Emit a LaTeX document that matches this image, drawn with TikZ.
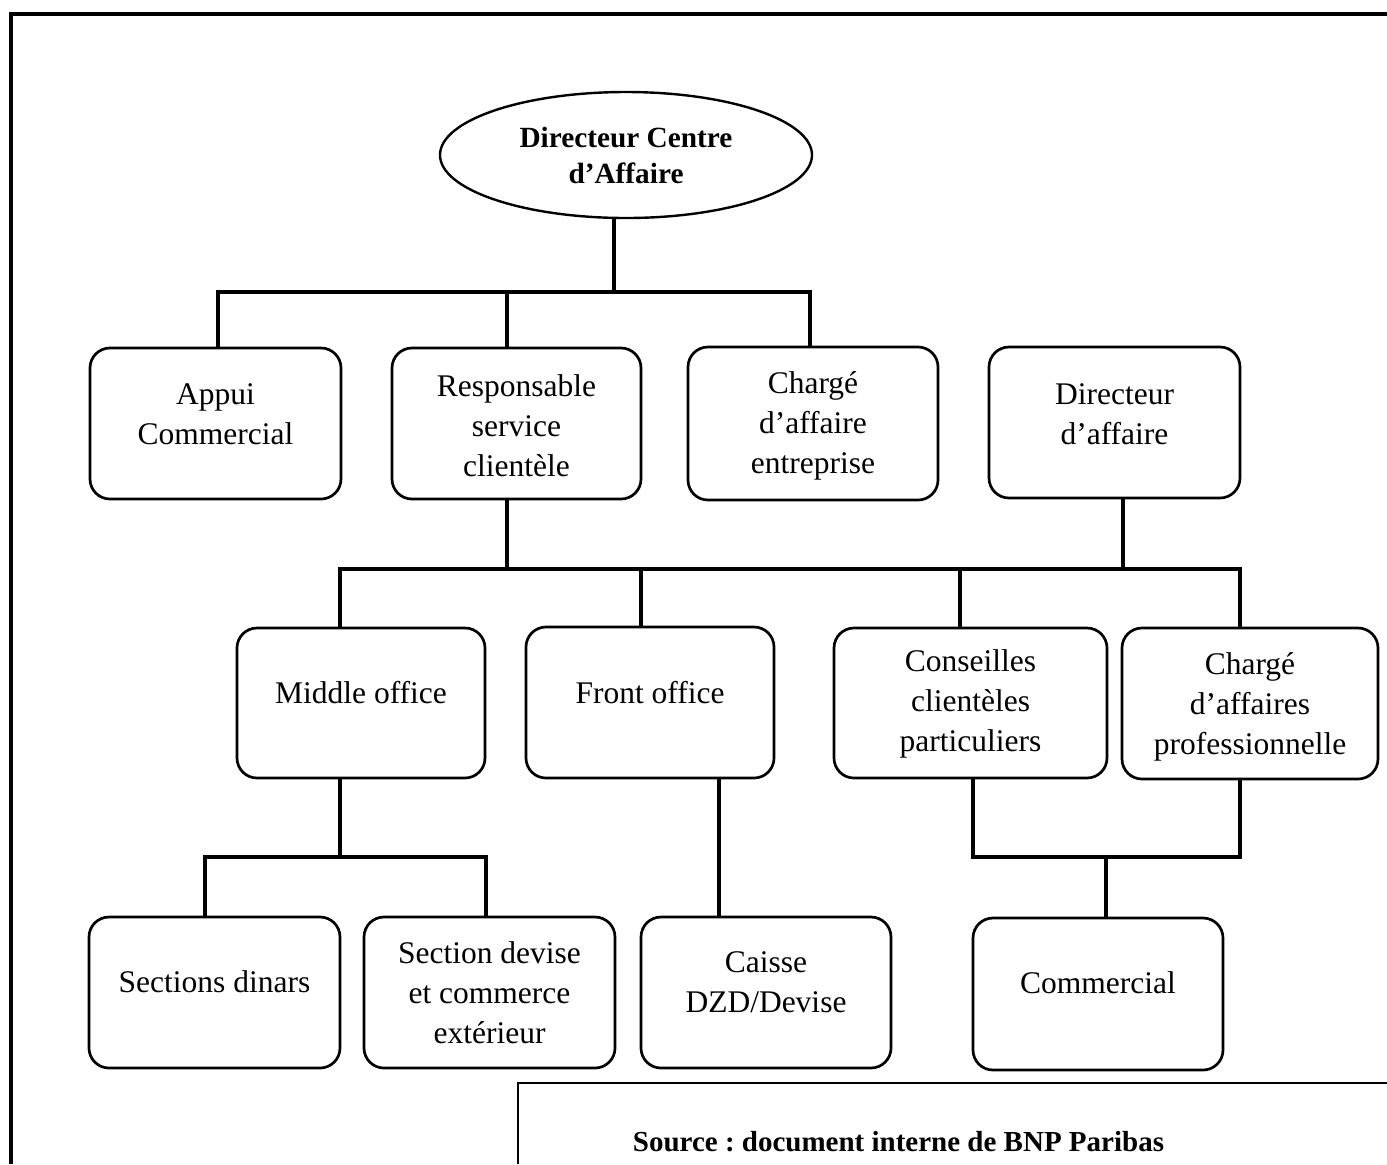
\documentclass[tikz,border=0pt]{standalone}
\usepackage{fontspec}
\setmainfont{Liberation Serif}
\usetikzlibrary{shapes.geometric}
\frenchspacing
\begin{document}
\begin{tikzpicture}[x=0.5pt,y=-0.5pt,
  box/.style 2 args={draw, line width=1.35pt, rounded corners=10pt, inner sep=0pt,
    minimum width={0.5pt*#1}, minimum height={0.5pt*#2}},
  ell/.style={draw, ellipse, line width=1.2pt, inner sep=0pt, minimum width=186pt,
    minimum height=63pt, align=center, font=\fontsize{14.65}{18}\selectfont\bfseries},
  lbl/.style={align=center, inner sep=0pt, font=\fontsize{15.75}{20}\selectfont},
  srctxt/.style={inner sep=0pt, font=\fontsize{14.5}{18}\selectfont\bfseries},
  conn/.style={line width=2pt},
  frame/.style={line width=1.65pt},
  srcframe/.style={line width=1pt}]
\useasboundingbox (0,0) rectangle (1387,1164);

% outer frame and source box
\draw[frame] (11,1164) -- (11,14) -- (1387,14);
\draw[srcframe] (518,1164) -- (518,1083) -- (1387,1083);
\node[srctxt] (src) at (898.5,1142) {Source : document interne de BNP Paribas};

% top
\node[ell] (dca) at (626,155) {Directeur Centre\\d’Affaire};

% row 1
\node[box={251}{151}] (appui) at (215.5,423.5) {};
\node[lbl] (appuiT) at (215.5,414) {Appui\\Commercial};
\node[box={249}{151}] (resp) at (516.5,423.5) {};
\node[lbl] (respT) at (516.5,426) {Responsable\\service\\clientèle};
\node[box={250}{153}] (charge) at (813,423.5) {};
\node[lbl] (chargeT) at (813,426) {Chargé\\d’affaire\\entreprise};
\node[box={251}{151}] (dir) at (1114.5,422.5) {};
\node[lbl] (dirT) at (1114.5,414) {Directeur\\d’affaire};

% row 2
\node[box={248}{150}] (middle) at (361,703) {};
\node[lbl] (middleT) at (361,693) {Middle office};
\node[box={248}{151}] (front) at (650,702.5) {};
\node[lbl] (frontT) at (650,693) {Front office};
\node[box={273}{150}] (conseil) at (970.5,703) {};
\node[lbl] (conseilT) at (970.5,704) {Conseilles\\clientèles\\particuliers};
\node[box={256}{151}] (chprof) at (1250,703.5) {};
\node[lbl] (chprofT) at (1250,707) {Chargé\\d’affaires\\professionnelle};

% row 3
\node[box={251}{151}] (dinars) at (214.5,992.5) {};
\node[lbl] (dinarsT) at (214.5,982) {Sections dinars};
\node[box={251}{151}] (devise) at (489.5,992.5) {};
\node[lbl] (deviseT) at (489.5,993) {Section devise\\et commerce\\extérieur};
\node[box={250}{151}] (caisse) at (766,992.5) {};
\node[lbl] (caisseT) at (766,982) {Caisse\\DZD/Devise};
\node[box={250}{152}] (commercial) at (1098,994) {};
\node[lbl] (commercialT) at (1098,983) {Commercial};

% connectors level 1
\coordinate (c1) at (614,292);
\coordinate (c1a) at (218,292);
\coordinate (c1b) at (507,292);
\coordinate (c1c) at (810,292);
\draw[conn] (dca.south -| c1) -- (c1);
\draw[conn] (c1a |- appui.north) -- (c1a) -- (c1c) -- (c1c |- charge.north);
\draw[conn] (c1b) -- (c1b |- resp.north);

% connectors level 2
\coordinate (c2a) at (340,569);
\coordinate (c2b) at (507,569);
\coordinate (c2c) at (641,569);
\coordinate (c2d) at (960,569);
\coordinate (c2e) at (1123,569);
\coordinate (c2f) at (1240,569);
\draw[conn] (c2b |- resp.south) -- (c2b);
\draw[conn] (c2e |- dir.south) -- (c2e);
\draw[conn] (c2a |- middle.north) -- (c2a) -- (c2f) -- (c2f |- chprof.north);
\draw[conn] (c2c) -- (c2c |- front.north);
\draw[conn] (c2d) -- (c2d |- conseil.north);

% connectors level 3
\coordinate (c3a) at (205,857);
\coordinate (c3b) at (340,857);
\coordinate (c3c) at (486,857);
\draw[conn] (c3b |- middle.south) -- (c3b);
\draw[conn] (c3a |- dinars.north) -- (c3a) -- (c3c) -- (c3c |- devise.north);
\coordinate (c3d) at (719,857);
\draw[conn] (c3d |- front.south) -- (c3d |- caisse.north);
\coordinate (c3e) at (973,857);
\coordinate (c3f) at (1106,857);
\coordinate (c3g) at (1240,857);
\draw[conn] (c3e |- conseil.south) -- (c3e) -- (c3g) -- (c3g |- chprof.south);
\draw[conn] (c3f) -- (c3f |- commercial.north);
\end{tikzpicture}
\end{document}
